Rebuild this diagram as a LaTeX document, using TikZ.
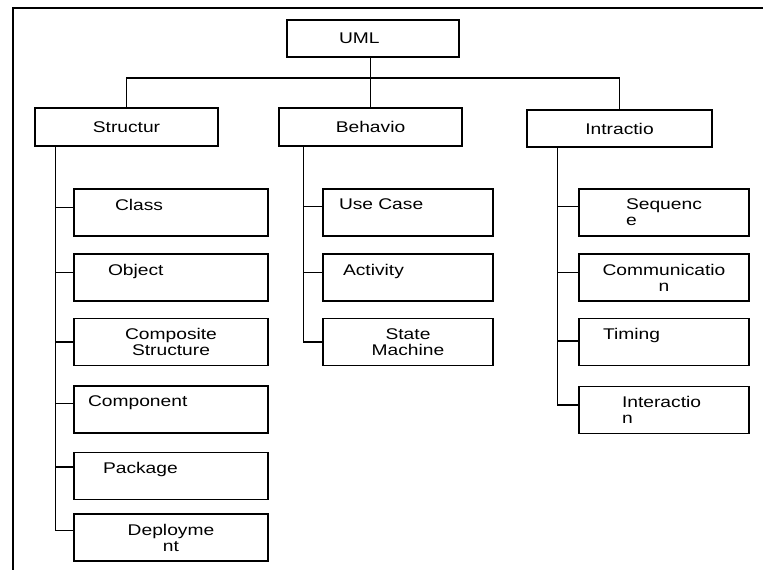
\documentclass[tikz,border=0pt]{standalone}
\usepackage{fontspec}
\setmainfont{Liberation Sans}[FakeStretch=1.24]
\tikzset{
  box/.style={rectangle, draw, line width=1.4pt, inner sep=0pt,
              font=\fontsize{15.5}{16}\selectfont},
  head/.style={box, minimum width=183pt, text width=183pt,
               minimum height=38pt, align=center},
  leaf/.style={box, minimum width=#1, text width=#1,
               minimum height=47pt, align=left},
  leaf/.default=170pt,
  link/.style={line width=1.4pt},
}
\begin{document}
\begin{tikzpicture}[x=1pt, y=-1pt]
  \useasboundingbox (0,0) rectangle (763,570);
  \draw[link] (13,570) -- (13,8) -- (763,8);

  % top levels
  \node[head, minimum width=172pt, text width=172pt, minimum height=37pt,
        align=left]            (uml)    at (373,38.5)   {\hspace*{52pt}UML};
  \node[head]                  (struct) at (126.5,127)  {Structur};
  \node[head]                  (behav)  at (370.5,127)  {Behavio};
  \node[head, minimum width=185pt, text width=185pt,
        minimum height=37pt]   (intr)   at (619.5,128.5) {Intractio};

  % structure diagrams
  \node[leaf=194pt]               (cls) at (171,212.5) {\hspace*{41pt}Class\\\mbox{}};
  \node[leaf=194pt]               (obj) at (171,277.5) {\hspace*{34pt}Object\\\mbox{}};
  \node[leaf=194pt, align=center] (cmp) at (171,342)   {Composite\\Structure};
  \node[leaf=194pt]               (cpn) at (171,409.5) {\hspace*{14pt}Component\\\mbox{}};
  \node[leaf=194pt]               (pkg) at (171,476)   {\hspace*{29pt}Package\\\mbox{}};
  \node[leaf=194pt, align=center] (dpl) at (171,537.5) {Deployme\\nt};

  % behaviour diagrams
  \node[leaf]               (use) at (408,212.5) {\hspace*{16pt}Use Case\\\mbox{}};
  \node[leaf]               (act) at (408,277.5) {\hspace*{20pt}Activity\\\mbox{}};
  \node[leaf, align=center] (stm) at (408,342)   {State\\Machine};

  % interaction diagrams
  \node[leaf]               (seq) at (664,212.5) {\hspace*{47pt}Sequenc\\\hspace*{47pt}e};
  \node[leaf, align=center] (com) at (664,277.5) {Communicatio\\n};
  \node[leaf]               (tim) at (664,342)   {\hspace*{24pt}Timing\\\mbox{}};
  \node[leaf]               (int) at (664,410)   {\hspace*{43pt}Interactio\\\hspace*{43pt}n};

  % connectors
  \coordinate (bus) at (0,78);
  \draw[link] (behav.north |- uml.south) -- (behav.north);
  \draw[link] (struct.north) -- (struct.north |- bus) -- (intr.north |- bus) -- (intr.north);

  \coordinate (strunk) at ([xshift=21pt]struct.south west);
  \coordinate (btrunk) at ([xshift=25pt]behav.south west);
  \coordinate (itrunk) at ([xshift=31pt]intr.south west);
  \foreach \n/\d in {cls/19,obj/19,cmp/24,cpn/18,pkg/15,dpl/17,
                     use/18,act/19,stm/24,seq/18,com/19,tim/23,int/19}
    \coordinate (\n-in) at ([yshift=-\d pt]\n.north west);

  \draw[link] (strunk) |- (dpl-in);
  \foreach \n in {cls,obj,cmp,cpn,pkg}
    \draw[link] (strunk |- \n-in) -- (\n-in);
  \draw[link] (btrunk) |- (stm-in);
  \foreach \n in {use,act}
    \draw[link] (btrunk |- \n-in) -- (\n-in);
  \draw[link] (itrunk) |- (int-in);
  \foreach \n in {seq,com,tim}
    \draw[link] (itrunk |- \n-in) -- (\n-in);
\end{tikzpicture}
\end{document}
